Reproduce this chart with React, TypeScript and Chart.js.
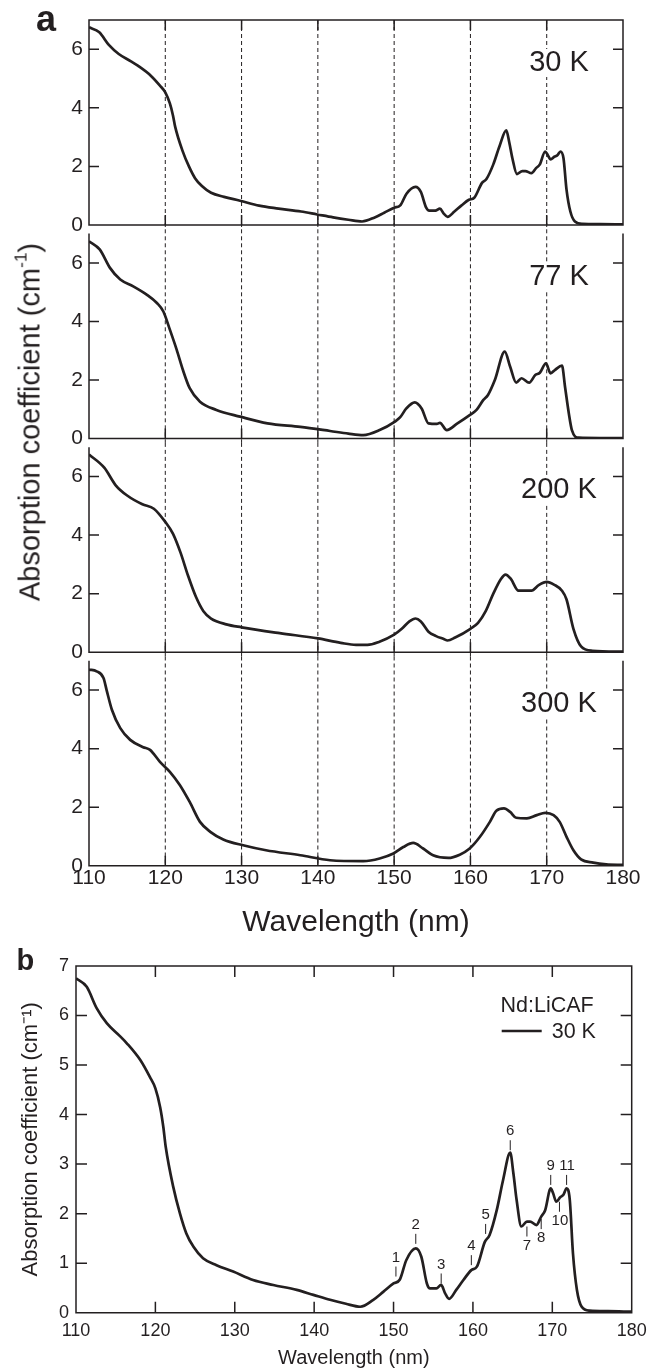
import React, { useEffect, useRef } from 'react';
import { Chart, registerables } from 'chart.js';

Chart.register(...registerables);

const INK = '#231f20';
const FONT = '"Liberation Sans", Arial, Helvetica, sans-serif';

// ---------------- data (wavelength in nm, absorption coefficient in cm^-1) ----------------
const wl30 = [110, 111.35, 112.6, 113.9, 115.5, 116.4, 118.1, 119.3, 120, 120.6, 121.0, 121.3, 122.25, 123.1, 123.9, 124.8, 126.0, 127.7, 129.8, 132.3, 134.85, 137.8, 139.9, 142.0, 144, 145.8, 147.45, 148.7, 150.0, 150.8, 151.6, 152.8, 153.5, 154.2, 154.6, 155.4, 156.0, 156.5, 157.0, 157.9, 158.8, 159.8, 160.5, 161.5, 162.1, 163.0, 163.8, 164.7, 165.1, 165.5, 166.1, 166.8, 167.2, 168.0, 168.6, 169.1, 169.8, 170.1, 170.5, 171.0, 171.4, 171.8, 172.2, 172.6, 173.1, 173.7, 174.7, 177, 180];
const abs30 = [6.75, 6.58, 6.15, 5.84, 5.59, 5.44, 5.10, 4.76, 4.53, 4.15, 3.75, 3.35, 2.54, 2.0, 1.60, 1.33, 1.10, 0.96, 0.83, 0.66, 0.56, 0.46, 0.36, 0.26, 0.18, 0.12, 0.26, 0.42, 0.59, 0.67, 1.06, 1.30, 1.13, 0.59, 0.49, 0.49, 0.56, 0.39, 0.28, 0.46, 0.66, 0.86, 0.93, 1.43, 1.57, 2.07, 2.68, 3.23, 2.81, 2.28, 1.74, 1.84, 1.84, 1.77, 1.94, 2.07, 2.51, 2.41, 2.24, 2.33, 2.38, 2.51, 2.28, 1.20, 0.46, 0.12, 0.04, 0.03, 0.02];

const wl77 = [110, 111.4, 112.75, 114.1, 115.8, 117.6, 118.9, 119.75, 120.6, 121.5, 122.3, 123.2, 124.55, 126.7, 129.8, 133.4, 137.7, 141.6, 144, 145.95, 148.1, 150.1, 150.8, 151.6, 152.7, 153.6, 154.5, 155.6, 156.0, 156.9, 158.2, 159.9, 160.8, 161.7, 162.3, 163.2, 164.5, 165.2, 166.0, 166.7, 167.7, 168.5, 169.1, 169.9, 170.5, 171.1, 172.0, 172.4, 172.9, 173.3, 174.2, 177, 180];
const abs77 = [6.74, 6.46, 5.83, 5.43, 5.2, 4.91, 4.63, 4.34, 3.72, 3.03, 2.35, 1.72, 1.26, 0.98, 0.75, 0.52, 0.40, 0.26, 0.17, 0.12, 0.29, 0.58, 0.73, 1.03, 1.24, 1.03, 0.52, 0.50, 0.54, 0.29, 0.50, 0.80, 0.98, 1.32, 1.49, 2.0, 2.97, 2.46, 1.91, 2.06, 1.91, 2.17, 2.25, 2.57, 2.23, 2.35, 2.49, 1.77, 0.86, 0.29, 0.03, 0.02, 0.02];

const wl200 = [110, 112, 113.5, 115, 117, 118.5, 120, 121, 122, 123, 124, 125, 126, 128, 130, 135, 140, 143, 145, 146.5, 148, 150, 151, 152, 152.8, 153.5, 154.5, 155.5, 156.5, 157, 158, 160, 161, 162, 163, 164, 164.6, 165.3, 166.3, 168, 169, 170, 171, 172, 172.6, 173.5, 174.5, 176, 180];
const abs200 = [6.75, 6.3, 5.7, 5.35, 5.05, 4.9, 4.45, 4.05, 3.4, 2.6, 1.9, 1.4, 1.15, 0.95, 0.85, 0.65, 0.47, 0.32, 0.25, 0.25, 0.35, 0.6, 0.8, 1.05, 1.15, 1.05, 0.7, 0.55, 0.45, 0.4, 0.5, 0.8, 1.0, 1.4, 2.0, 2.5, 2.65, 2.5, 2.1, 2.1, 2.3, 2.4, 2.3, 2.1, 1.8, 0.8, 0.2, 0.05, 0.02];

const wl300 = [110, 111, 111.9, 112.3, 113.0, 114.1, 115.4, 117.1, 118.0, 119.3, 120.6, 121.9, 123.2, 124.55, 125.9, 127.6, 130.2, 133.2, 137.7, 141.6, 145.95, 148.1, 149.9, 151.2, 152.5, 153.8, 155.1, 157.1, 158.6, 159.9, 161.25, 162.55, 163.4, 164.4, 165.2, 166.0, 167.4, 168.7, 169.8, 170.9, 171.7, 172.6, 173.5, 174.5, 176.1, 177.8, 180];
const abs300 = [6.70, 6.64, 6.41, 6.01, 5.33, 4.70, 4.30, 4.05, 3.96, 3.55, 3.21, 2.76, 2.18, 1.5, 1.16, 0.90, 0.70, 0.53, 0.36, 0.19, 0.16, 0.25, 0.42, 0.64, 0.78, 0.59, 0.36, 0.27, 0.38, 0.59, 0.99, 1.5, 1.88, 1.96, 1.84, 1.64, 1.62, 1.73, 1.81, 1.73, 1.5, 0.99, 0.53, 0.22, 0.11, 0.05, 0.03];

const temperatures = ['30 K', '77 K', '200 K', '300 K'];
const seriesWl = [wl30, wl77, wl200, wl300];
const seriesAbs = [abs30, abs77, abs200, abs300];

const xTickValues = [110, 120, 130, 140, 150, 160, 170, 180];
const xGridValues = [120, 130, 140, 150, 160, 170];
const yTickValuesA = [0, 2, 4, 6];
const yTickValuesB = [0, 1, 2, 3, 4, 5, 6, 7];

const peakLabels = ['1', '2', '3', '4', '5', '6', '7', '8', '9', '10', '11'];
const peakWavelengths = [150.3, 152.8, 156.0, 159.8, 161.6, 164.7, 166.8, 168.6, 169.8, 170.9, 171.8];
const peakValues = [0.73, 1.39, 0.59, 0.96, 1.59, 3.28, 1.74, 1.89, 2.58, 2.24, 2.58];
const peakSide = ['up', 'up', 'up', 'up', 'up', 'up', 'down', 'down', 'up', 'down', 'up'];

const legendTitle = 'Nd:LiCAF';
const legendLabel = '30 K';
const xTitle = 'Wavelength (nm)';
const yTitle = 'Absorption coefficient (cm\u207B\u00B9)';

// ---------------- helpers ----------------
const toXY = (xs: number[], ys: number[]) => xs.map((x, i) => ({ x, y: ys[i] }));

type FrameCfg = { top: boolean; grid: number[] | null; gridUp: number; gridDown: number; tickLen: number; lineWidth: number };

function framePlugin(cfg: FrameCfg) {
  return {
    id: 'frame',
    beforeDatasetsDraw(chart: any) {
      if (!cfg.grid) return;
      const { ctx, chartArea, scales } = chart;
      const x = scales.x;
      ctx.save();
      ctx.strokeStyle = INK;
      ctx.lineWidth = 1;
      ctx.setLineDash([4, 3]);
      for (const v of cfg.grid) {
        const px = x.getPixelForValue(v);
        ctx.beginPath();
        ctx.moveTo(px, chartArea.top - cfg.gridUp);
        ctx.lineTo(px, chartArea.bottom + cfg.gridDown);
        ctx.stroke();
      }
      ctx.restore();
    },
    afterDatasetsDraw(chart: any) {
      const { ctx, chartArea, scales } = chart;
      const { left, right, top, bottom } = chartArea;
      const x = scales.x;
      const y = scales.y;
      ctx.save();
      ctx.strokeStyle = INK;
      ctx.lineWidth = cfg.lineWidth;
      ctx.lineJoin = 'miter';
      ctx.lineCap = 'butt';
      ctx.setLineDash([]);
      ctx.beginPath();
      if (cfg.top) {
        ctx.moveTo(left, top);
        ctx.lineTo(right, top);
        ctx.lineTo(right, bottom);
        ctx.lineTo(left, bottom);
        ctx.closePath();
      } else {
        ctx.moveTo(left, top);
        ctx.lineTo(left, bottom);
        ctx.lineTo(right, bottom);
        ctx.lineTo(right, top);
      }
      ctx.stroke();
      const L = cfg.tickLen;
      ctx.beginPath();
      for (const t of x.ticks) {
        const px = x.getPixelForValue(t.value);
        if (px <= left + 1 || px >= right - 1) continue;
        ctx.moveTo(px, bottom);
        ctx.lineTo(px, bottom - L);
        if (cfg.top) {
          ctx.moveTo(px, top);
          ctx.lineTo(px, top + L);
        }
      }
      for (const t of y.ticks) {
        const py = y.getPixelForValue(t.value);
        if (py >= bottom - 1 || py <= top + 1) continue;
        ctx.moveTo(left, py);
        ctx.lineTo(left + L, py);
        ctx.moveTo(right, py);
        ctx.lineTo(right - L, py);
      }
      ctx.stroke();
      ctx.restore();
    },
  };
}

function tempLabelPlugin(text: string) {
  return {
    id: 'tempLabel',
    afterDatasetsDraw(chart: any) {
      const { ctx, chartArea } = chart;
      const cx = chartArea.right - 64;
      const cy = chartArea.top + 43;
      ctx.save();
      ctx.font = `29px ${FONT}`;
      const w = ctx.measureText(text).width;
      ctx.fillStyle = '#ffffff';
      ctx.fillRect(cx - w / 2 - 2, cy - 14, w + 4, 28);
      ctx.fillStyle = INK;
      ctx.textAlign = 'center';
      ctx.textBaseline = 'middle';
      ctx.fillText(text, cx, cy);
      ctx.restore();
    },
  };
}

const peakPlugin = {
  id: 'peaks',
  afterDatasetsDraw(chart: any) {
    const { ctx, scales } = chart;
    const x = scales.x;
    const y = scales.y;
    ctx.save();
    ctx.strokeStyle = INK;
    ctx.fillStyle = INK;
    ctx.lineWidth = 1;
    ctx.font = `15px ${FONT}`;
    ctx.textAlign = 'center';
    ctx.textBaseline = 'middle';
    peakLabels.forEach((lab, i) => {
      const px = x.getPixelForValue(peakWavelengths[i]);
      const py = y.getPixelForValue(peakValues[i]);
      const dir = peakSide[i] === 'up' ? -1 : 1;
      const end = py + dir * 10;
      ctx.beginPath();
      ctx.moveTo(px, py);
      ctx.lineTo(px, end);
      ctx.stroke();
      ctx.fillText(lab, px + (lab.length > 1 ? 0.5 : 0), end + dir * 9);
    });
    ctx.restore();
  },
};

const legendPlugin = {
  id: 'legendB',
  afterDatasetsDraw(chart: any) {
    const { ctx, chartArea } = chart;
    const r = chartArea.right;
    const t = chartArea.top;
    ctx.save();
    ctx.fillStyle = INK;
    ctx.strokeStyle = INK;
    ctx.font = `21.5px ${FONT}`;
    ctx.textBaseline = 'middle';
    ctx.textAlign = 'right';
    ctx.fillText(legendTitle, r - 38, t + 40);
    ctx.lineWidth = 2.5;
    ctx.beginPath();
    ctx.moveTo(r - 130, t + 65);
    ctx.lineTo(r - 90, t + 65);
    ctx.stroke();
    ctx.textAlign = 'left';
    ctx.fillText(legendLabel, r - 80, t + 66);
    ctx.restore();
  },
};

function fixTicks(values: number[]) {
  return (s: any) => {
    s.ticks = values.map((v) => ({ value: v }));
  };
}

// ---------------- panel a geometry ----------------
const A_LEFT = 89;
const A_RIGHT = 623;
const A_H = 205;
const A_STEP = 213.6;
const A_FIRST_TOP = 20;
const GAP_HALF = (A_STEP - A_H) / 2;
const CURVE_W = 2.7;

function subplotConfig(i: number, canvasTop: number, canvasH: number) {
  const isLast = i === 3;
  const plotTop = A_FIRST_TOP + A_STEP * i;
  const padTop = plotTop - canvasTop;
  const xAxisH = canvasH - padTop - A_H;
  return {
    type: 'line',
    data: {
      datasets: [
        {
          data: toXY(seriesWl[i], seriesAbs[i]),
          borderColor: INK,
          borderWidth: CURVE_W,
          pointRadius: 0,
          cubicInterpolationMode: 'monotone',
          fill: false,
        },
      ],
    },
    options: {
      responsive: false,
      animation: false,
      events: [],
      layout: { autoPadding: false, padding: { top: padTop, left: 0, right: 656 - A_RIGHT, bottom: 0 } },
      plugins: { legend: { display: false }, tooltip: { enabled: false } },
      scales: {
        x: {
          type: 'linear',
          min: 110,
          max: 180,
          afterBuildTicks: fixTicks(xTickValues),
          grid: { display: false, drawTicks: false },
          border: { display: false },
          ticks: { display: isLast, color: INK, font: { family: FONT, size: 21 }, padding: 0, maxRotation: 0, autoSkip: false },
          title: isLast
            ? { display: true, text: xTitle, color: INK, font: { family: FONT, size: 30, lineHeight: 1 }, padding: { top: 0, bottom: 7 } }
            : { display: false },
          afterFit: (s: any) => {
            s.height = xAxisH;
            s.paddingLeft = 0;
            s.paddingRight = 0;
          },
        },
        y: {
          type: 'linear',
          min: 0,
          max: 7,
          afterBuildTicks: fixTicks(yTickValuesA),
          grid: { display: false, drawTicks: false },
          border: { display: false },
          ticks: { color: INK, font: { family: FONT, size: 21 }, padding: 6 },
          afterFit: (s: any) => {
            s.width = A_LEFT;
            s.paddingTop = 0;
            s.paddingBottom = 0;
          },
        },
      },
    },
    plugins: [
      framePlugin({
        top: i === 0,
        grid: xGridValues,
        gridUp: i === 0 ? 0 : GAP_HALF,
        gridDown: isLast ? 0 : GAP_HALF,
        tickLen: 10,
        lineWidth: 1.5,
      }),
      tempLabelPlugin(temperatures[i]),
    ],
  };
}

// ---------------- panel b geometry ----------------
const B_CANVAS_TOP = 940;
const B_CANVAS_H = 430;
const B_LEFT = 76;
const B_RIGHT = 631.7;
const B_TOP = 966;
const B_BOTTOM = 1312.7;

function panelBConfig() {
  return {
    type: 'line',
    data: {
      datasets: [
        {
          data: toXY(wl30, abs30),
          borderColor: INK,
          borderWidth: CURVE_W,
          pointRadius: 0,
          cubicInterpolationMode: 'monotone',
          fill: false,
        },
      ],
    },
    options: {
      responsive: false,
      animation: false,
      events: [],
      layout: { autoPadding: false, padding: { top: B_TOP - B_CANVAS_TOP, left: 0, right: 656 - B_RIGHT, bottom: 0 } },
      plugins: { legend: { display: false }, tooltip: { enabled: false } },
      scales: {
        x: {
          type: 'linear',
          min: 110,
          max: 180,
          afterBuildTicks: fixTicks(xTickValues),
          grid: { display: false, drawTicks: false },
          border: { display: false },
          ticks: { color: INK, font: { family: FONT, size: 18 }, padding: 8, maxRotation: 0, autoSkip: false },
          title: { display: true, text: xTitle, color: INK, font: { family: FONT, size: 20, lineHeight: 1 }, padding: { top: 0, bottom: 2 } },
          afterFit: (s: any) => {
            s.height = B_CANVAS_TOP + B_CANVAS_H - B_BOTTOM;
            s.paddingLeft = 0;
            s.paddingRight = 0;
          },
        },
        y: {
          type: 'linear',
          min: 0,
          max: 7,
          afterBuildTicks: fixTicks(yTickValuesB),
          grid: { display: false, drawTicks: false },
          border: { display: false },
          ticks: { color: INK, font: { family: FONT, size: 18 }, padding: 7 },
          title: { display: true, text: yTitle, color: INK, font: { family: FONT, size: 22, lineHeight: 1 }, padding: { top: 20, bottom: 0 } },
          afterFit: (s: any) => {
            s.width = B_LEFT;
            s.paddingTop = 0;
            s.paddingBottom = 0;
          },
        },
      },
    },
    plugins: [
      framePlugin({ top: true, grid: null, gridUp: 0, gridDown: 0, tickLen: 11, lineWidth: 1.5 }),
      peakPlugin,
      legendPlugin,
    ],
  };
}

function ChartCanvas({ make, top, height }: { make: () => any; top: number; height: number }) {
  const ref = useRef<HTMLCanvasElement>(null);
  useEffect(() => {
    const chart = new Chart(ref.current as HTMLCanvasElement, make());
    return () => chart.destroy();
  }, []);
  return (
    <canvas
      ref={ref}
      width={656}
      height={height}
      style={{ position: 'absolute', left: 0, top, width: 656, height, display: 'block' }}
    />
  );
}

const subplotCanvases = [0, 1, 2, 3].map((i) => {
  const plotTop = A_FIRST_TOP + A_STEP * i;
  const top = i === 0 ? 0 : Math.floor(plotTop) - 20;
  const bottom = i === 3 ? 945 : Math.ceil(plotTop + A_H) + 20;
  return { i, top, height: bottom - top };
});

export default function App() {
  return (
    <div
      style={{
        position: 'absolute',
        left: 0,
        top: 0,
        width: 656,
        height: 1370,
        background: '#ffffff',
        fontFamily: FONT,
        color: INK,
        overflow: 'hidden',
      }}
    >
      {subplotCanvases.map((c) => (
        <ChartCanvas key={c.i} make={() => subplotConfig(c.i, c.top, c.height)} top={c.top} height={c.height} />
      ))}
      <ChartCanvas make={panelBConfig} top={B_CANVAS_TOP} height={B_CANVAS_H} />
      <div style={{ position: 'absolute', left: 36, top: 1, fontSize: 36, fontWeight: 'bold', lineHeight: 1 }}>a</div>
      <div style={{ position: 'absolute', left: 16.5, top: 946, fontSize: 29, fontWeight: 'bold', lineHeight: 1 }}>b</div>
      <div
        style={{
          position: 'absolute',
          left: 30,
          top: 422,
          transform: 'translate(-50%, -50%) rotate(-90deg)',
          whiteSpace: 'nowrap',
          fontSize: 29,
          lineHeight: 1,
        }}
      >
        Absorption coefficient (cm<sup style={{ fontSize: '0.6em', lineHeight: 0, verticalAlign: '0.75em' }}>-1</sup>)
      </div>
    </div>
  );
}
